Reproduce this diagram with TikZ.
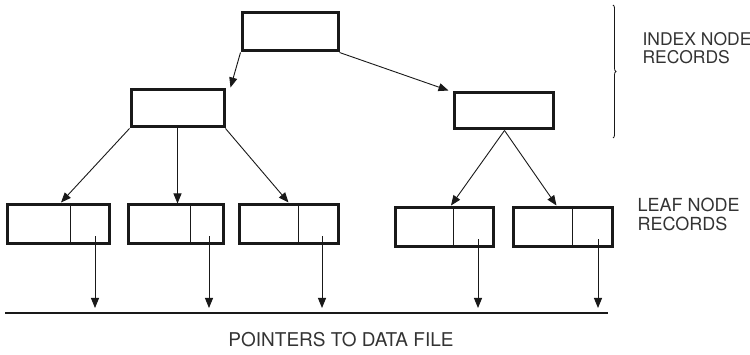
\documentclass[tikz,border=0pt]{standalone}
\usepackage{fontspec}
\setmainfont{TeX Gyre Heros}
\usetikzlibrary{arrows.meta,calc,decorations.pathreplacing}
\definecolor{ink}{gray}{0.1}
\definecolor{labelgray}{gray}{0.2}
\tikzset{
  record/.style={draw=ink, line width=3pt, rectangle, inner sep=0pt},
  divider/.style={draw=ink, line width=0.9pt},
  link/.style={draw=ink, line width=0.9pt, -{Triangle[length=10pt,width=8pt]}},
  caption/.style={text=labelgray, align=left, font=\fontsize{18}{19.5}\selectfont}
}
\begin{document}
\begin{tikzpicture}[x=1pt,y=-1pt]
  \useasboundingbox (0,0) rectangle (750,355);

  % index node records
  \node[record, minimum width=96pt, minimum height=38pt] (root) at (290,32) {};
  \node[record, minimum width=93pt, minimum height=37pt] (idxL) at (177.5,108.5) {};
  \node[record, minimum width=99pt, minimum height=36pt] (idxR) at (503.5,111) {};

  % leaf node records (key part | pointer part)
  \node[record, minimum width=102pt, minimum height=39pt] (leafA) at (58,224.5) {};
  \node[record, minimum width=95pt,  minimum height=39pt] (leafB) at (175.5,224.5) {};
  \node[record, minimum width=99pt,  minimum height=39pt] (leafC) at (288.5,224.5) {};
  \node[record, minimum width=98pt,  minimum height=39pt] (leafD) at (444,227.5) {};
  \node[record, minimum width=99pt,  minimum height=39pt] (leafE) at (562.5,227.5) {};

  % compartment dividers
  \coordinate (dA) at (70,0);  \coordinate (dB) at (190,0); \coordinate (dC) at (298,0);
  \coordinate (dD) at (453,0); \coordinate (dE) at (572,0);
  \foreach \l/\d in {leafA/dA, leafB/dB, leafC/dC, leafD/dD, leafE/dE}
    \draw[divider] (\d |- \l.north) -- (\d |- \l.south);

  % tree links
  \draw[link] (root.south west) -- ($(idxL.north east)+(5,-1)$);
  \draw[link] (root.south east) -- ($(idxR.north west)+(-4,-1)$);
  \draw[link] (idxL.south west) -- ($(leafA.north)+(3,-1)$);
  \draw[link] (idxL.south) -- (idxL.south |- leafB.north);
  \draw[link] (idxL.south east) -- ($(leafC.north)+(0,-1)$);
  \draw[link] ($(idxR.south)+(1,0)$) -- ($(leafD.north)+(7,-1)$);
  \draw[link] ($(idxR.south)+(1,0)$) -- ($(leafE.north)+(-6,-1)$);

  % data file line and pointers to it
  \coordinate (fileL) at (5,313);
  \coordinate (fileR) at (608,313);
  \draw[ink, line width=1.2pt] (fileL) -- (fileR);
  \foreach \p/\x/\l in {pA/95/leafA, pB/209/leafB, pC/322/leafC, pD/478/leafD, pE/598/leafE}{
    \coordinate (\p) at (\x,0);
    \draw[link] ($(\p |- \l.south)+(0,-9)$) -- ($(\p |- fileL)+(0,-5)$);
  }

  % brace grouping the index levels
  \coordinate (braceTop) at (613,5);
  \coordinate (braceBot) at (613,138);
  \draw[ink, line width=0.8pt, decorate, decoration={brace, amplitude=3pt}] (braceTop) -- (braceBot);

  % labels
  \node[caption, anchor=base west, font=\fontsize{17.5}{18}\selectfont] (idxText) at (639,64) {INDEX NODE\\RECORDS};
  \node[caption, anchor=base west] (leafText) at (634,231) {LEAF NODE\\RECORDS};
  \node[caption, anchor=base, font=\fontsize{19}{20}\selectfont] (fileText) at (341,347) {POINTERS TO DATA FILE};
\end{tikzpicture}
\end{document}
